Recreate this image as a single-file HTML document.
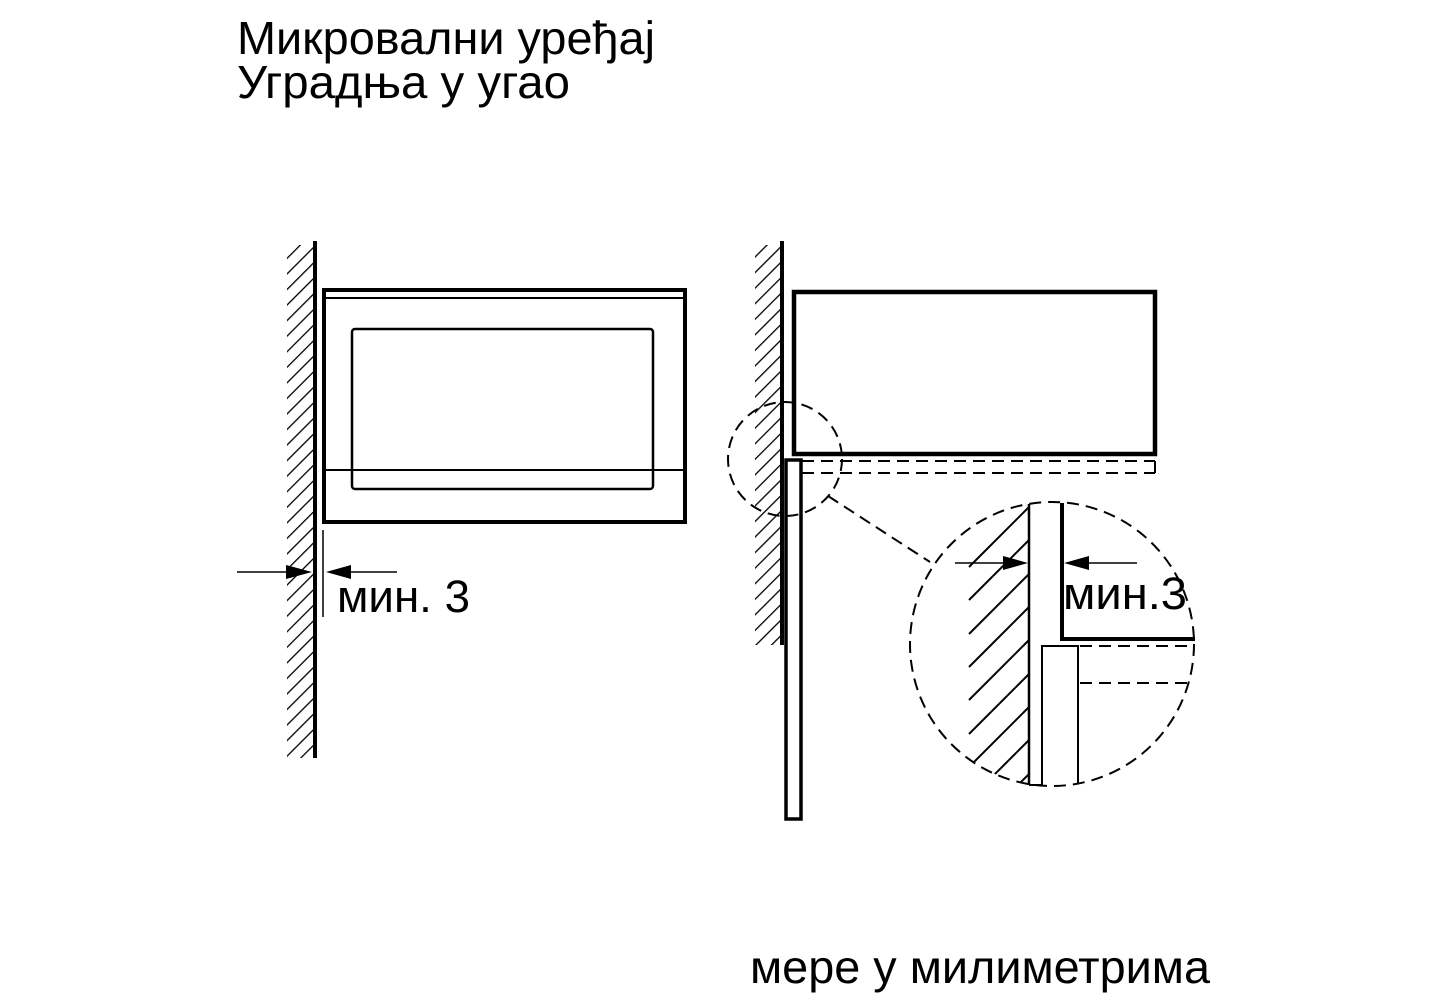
<!DOCTYPE html>
<html><head><meta charset="utf-8"><style>
html,body{margin:0;padding:0;background:#fff}
svg{display:block}
text{font-family:"Liberation Sans",sans-serif;fill:#000}
</style></head><body>
<svg width="1438" height="1000" viewBox="0 0 1438 1000" xmlns="http://www.w3.org/2000/svg">
<defs>
<pattern id="h" width="11" height="11" patternUnits="userSpaceOnUse" patternTransform="rotate(45)">
<line x1="0" y1="0" x2="0" y2="11" stroke="#000" stroke-width="2.6"/>
</pattern>
<clipPath id="cc"><circle cx="1052" cy="644" r="142"/></clipPath>
</defs>
<text x="237" y="54" font-size="46" textLength="418" lengthAdjust="spacingAndGlyphs">Микровални уређај</text>
<text x="237" y="98" font-size="46" textLength="333" lengthAdjust="spacingAndGlyphs">Уградња у угао</text>
<text x="750" y="983" font-size="46" textLength="460" lengthAdjust="spacingAndGlyphs">мере у милиметрима</text>

<!-- left diagram -->
<rect x="287" y="245" width="26" height="513" fill="url(#h)"/>
<line x1="315" y1="241" x2="315" y2="758" stroke="#000" stroke-width="4"/>
<rect x="324" y="290" width="361" height="232" fill="none" stroke="#000" stroke-width="4"/>
<line x1="324" y1="298" x2="685" y2="298" stroke="#000" stroke-width="2"/>
<rect x="352" y="329" width="301" height="160" rx="3" fill="none" stroke="#000" stroke-width="2.5"/>
<line x1="324" y1="470" x2="685" y2="470" stroke="#000" stroke-width="2"/>
<line x1="323" y1="530" x2="323" y2="617" stroke="#000" stroke-width="1.5"/>
<line x1="237" y1="572" x2="295" y2="572" stroke="#000" stroke-width="1.5"/>
<polygon points="312,572 286,565 286,579" fill="#000"/>
<line x1="345" y1="572" x2="397" y2="572" stroke="#000" stroke-width="1.5"/>
<polygon points="326,572 351,565 351,579" fill="#000"/>
<text x="337" y="612" font-size="45" textLength="133" lengthAdjust="spacingAndGlyphs">мин. 3</text>

<!-- right diagram -->
<rect x="755" y="245" width="26" height="400" fill="url(#h)"/>
<line x1="782" y1="241" x2="782" y2="645" stroke="#000" stroke-width="4"/>
<rect x="794" y="292" width="361" height="162" fill="none" stroke="#000" stroke-width="4.5"/>
<rect x="786" y="460" width="15" height="359" fill="#fff" stroke="#000" stroke-width="3.5"/>
<g stroke="#000" stroke-width="2" stroke-dasharray="12,7" fill="none">
<line x1="802" y1="461" x2="1155" y2="461"/>
<line x1="802" y1="473" x2="1155" y2="473"/>
<line x1="1155" y1="461" x2="1155" y2="473"/>
<ellipse cx="785" cy="459" rx="57" ry="57"/>
<line x1="828" y1="496" x2="930" y2="562"/>
<circle cx="1052" cy="644" r="142"/>
<line x1="1080" y1="646" x2="1195" y2="646"/>
<line x1="1080" y1="683" x2="1190" y2="683"/>
</g>
<g clip-path="url(#cc)" stroke="#000" stroke-width="2">
<line x1="969" y1="567" x2="1029" y2="507"/>
<line x1="969" y1="600" x2="1029" y2="540"/>
<line x1="969" y1="634" x2="1029" y2="574"/>
<line x1="969" y1="667" x2="1029" y2="607"/>
<line x1="969" y1="700" x2="1029" y2="640"/>
<line x1="969" y1="734" x2="1029" y2="674"/>
<line x1="969" y1="767" x2="1029" y2="707"/>
<line x1="969" y1="800" x2="1029" y2="740"/>
<line x1="969" y1="834" x2="1029" y2="774"/>
</g>
<line x1="1029" y1="504" x2="1029" y2="785" stroke="#000" stroke-width="2.5"/>
<polyline points="1029,785 1042,785 1042,646 1078,646 1078,783" fill="none" stroke="#000" stroke-width="2"/>
<polyline points="1062,503 1062,639 1195,639" fill="none" stroke="#000" stroke-width="4"/>
<line x1="955" y1="563" x2="1010" y2="563" stroke="#000" stroke-width="1.5"/>
<polygon points="1028,563 1003,556 1003,570" fill="#000"/>
<line x1="1080" y1="563" x2="1137" y2="563" stroke="#000" stroke-width="1.5"/>
<polygon points="1064,563 1089,556 1089,570" fill="#000"/>
<text x="1063" y="609" font-size="45" textLength="124" lengthAdjust="spacingAndGlyphs">мин.3</text>
</svg>
</body></html>
